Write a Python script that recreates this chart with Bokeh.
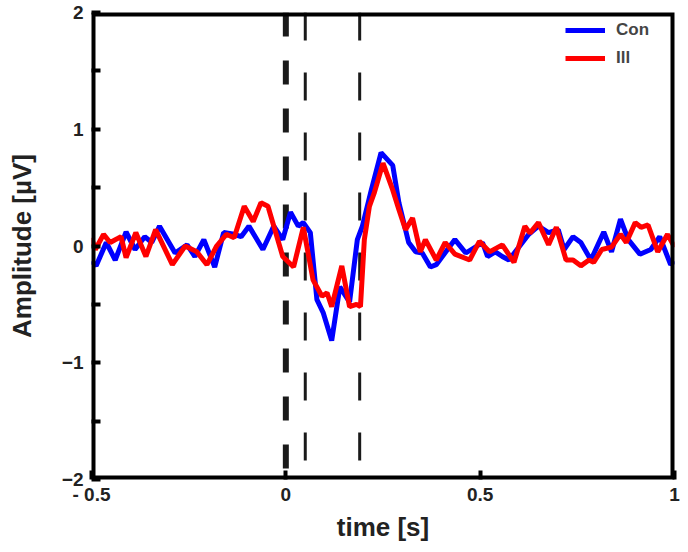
from bokeh.plotting import figure
from bokeh.models import FixedTicker, Legend, LegendItem, Range1d
from bokeh.embed import file_html
from bokeh.resources import INLINE

# time [s] and amplitude [µV]
con_t = [-0.500, -0.488, -0.462, -0.439, -0.411, -0.388, -0.363, -0.345, -0.325, -0.285,
         -0.254, -0.234, -0.211, -0.183, -0.160, -0.133, -0.115, -0.095, -0.059, -0.031,
         -0.008, 0.012, 0.032, 0.045, 0.063, 0.080, 0.096, 0.118, 0.139, 0.164,
         0.184, 0.197, 0.220, 0.245, 0.275, 0.291, 0.316, 0.334, 0.351, 0.372,
         0.387, 0.435, 0.463, 0.506, 0.519, 0.539, 0.557, 0.574, 0.625, 0.650,
         0.676, 0.701, 0.716, 0.739, 0.759, 0.785, 0.818, 0.838, 0.861, 0.881,
         0.911, 0.939, 0.962, 0.990, 1.000]
con_v = [-0.13, -0.17, 0.03, -0.12, 0.12, -0.03, 0.08, 0.03, 0.17, -0.06,
         0.01, -0.09, 0.055, -0.18, 0.115, 0.10, 0.08, 0.17, -0.03, 0.17,
         0.055, 0.29, 0.17, 0.20, 0.115, -0.46, -0.57, -0.81, -0.35, -0.48,
         0.055, 0.17, 0.48, 0.80, 0.69, 0.37, 0.03, -0.05, -0.06, -0.18,
         -0.16, 0.055, -0.06, 0.03, -0.09, -0.05, -0.09, -0.12, 0.10, 0.17,
         0.115, 0.14, -0.03, 0.08, 0.03, -0.12, 0.12, -0.05, 0.23, 0.055,
         -0.07, -0.03, 0.08, -0.16, -0.13]

ill_t = [-0.500, -0.490, -0.469, -0.452, -0.424, -0.411, -0.386, -0.360, -0.335, -0.292,
         -0.259, -0.229, -0.203, -0.178, -0.153, -0.133, -0.107, -0.084, -0.064, -0.046,
         -0.008, 0.020, 0.045, 0.070, 0.093, 0.106, 0.118, 0.144, 0.164, 0.182,
         0.192, 0.202, 0.215, 0.227, 0.250, 0.275, 0.291, 0.308, 0.326, 0.346,
         0.359, 0.387, 0.410, 0.435, 0.473, 0.498, 0.524, 0.557, 0.587, 0.615,
         0.628, 0.650, 0.676, 0.696, 0.721, 0.739, 0.759, 0.780, 0.792, 0.813,
         0.838, 0.861, 0.876, 0.899, 0.914, 0.932, 0.957, 0.982, 1.000]
ill_v = [0.07, -0.03, 0.10, 0.03, 0.08, -0.10, 0.115, -0.09, 0.14, -0.16,
         0.0, -0.05, -0.16, 0.0, 0.10, 0.07, 0.34, 0.21, 0.37, 0.34,
         -0.09, -0.18, 0.16, -0.29, -0.43, -0.40, -0.52, -0.17, -0.52, -0.50,
         -0.52, 0.055, 0.34, 0.45, 0.71, 0.48, 0.31, 0.14, 0.24, -0.05,
         0.055, -0.12, 0.03, -0.07, -0.12, 0.04, -0.05, 0.01, -0.14, 0.17,
         0.11, 0.20, 0.01, 0.16, -0.12, -0.12, -0.17, -0.12, -0.14, -0.03,
         -0.01, 0.10, 0.03, 0.20, 0.16, 0.18, -0.05, 0.10, -0.01]

marker_times = [0.0, 0.05, 0.19]
y_ticks = [-2, -1, 0, 1, 2]
y_minor = [-1.5, -0.5, 0.5, 1.5]
x_ticks = [-0.5, 0, 0.5, 1]
x_labels = {-0.5: "- 0.5", 0: "0", 0.5: "0.5", 1: "1"}

FONT = "Liberation Sans"
x0, x1 = x_ticks[0], x_ticks[-1]
y0, y1 = y_ticks[0], y_ticks[-1]

p = figure(width=680, height=544, output_backend="svg", toolbar_location=None,
           x_range=Range1d(x0, x1), y_range=Range1d(y0, y1),
           min_border_left=91, min_border_right=6, min_border_top=12, min_border_bottom=63)
p.grid.visible = False
p.outline_line_color = None
p.background_fill_color = "white"
p.border_fill_color = "white"

xax = p.below[0]
yax = p.left[0]

# dashed markers
p.line([marker_times[0], marker_times[0]], [y1, y0], line_color="#1a1a1a", line_width=6,
       line_dash="24 24")
for t in marker_times[1:]:
    p.line([t, t], [y1, y0], line_color="#1a1a1a", line_width=3, line_dash="28 32")

r_con = p.line(con_t, con_v, line_color="#0000ff", line_width=5)
r_ill = p.line(ill_t, ill_v, line_color="#ff0000", line_width=5)

# box around the frame (clipped to the frame, so half of the width shows)
p.line([x0, x1, x1, x0, x0], [y0, y0, y1, y1, y0], line_color="black", line_width=8)

legend = Legend(items=[LegendItem(label="Con", renderers=[r_con]),
                       LegendItem(label="Ill", renderers=[r_ill])],
                location=(474, 411), border_line_color=None,
                background_fill_alpha=0.0, label_text_font=FONT,
                label_text_font_style="bold", label_text_font_size="17px",
                glyph_width=40, glyph_height=20, label_height=20,
                label_standoff=11, spacing=8, margin=0, padding=4)
p.add_layout(legend)

for ax in (xax, yax):
    ax.axis_line_color = None
    ax.major_tick_in = 9
    ax.major_tick_out = 0
    ax.major_tick_line_width = 4
    ax.minor_tick_in = 9
    ax.minor_tick_out = 0
    ax.minor_tick_line_width = 4
    ax.major_label_text_font = FONT
    ax.major_label_text_font_style = "bold"
    ax.major_label_text_font_size = "19px"
    ax.major_label_text_color = "#222222"
    ax.axis_label_text_font = FONT
    ax.axis_label_text_font_style = "bold"
    ax.axis_label_text_font_size = "26px"
    ax.axis_label_text_color = "#222222"

yax.ticker = FixedTicker(ticks=y_ticks, minor_ticks=y_minor)
yax.major_label_overrides = {-2: "\u22122", -1: "\u22121", 0: "0", 1: "1", 2: "2"}
yax.axis_label = "Amplitude [\u00b5V]"
yax.axis_label_standoff = 22
yax.major_label_standoff = 8

xax.ticker = FixedTicker(ticks=x_ticks)
xax.major_label_overrides = x_labels
xax.axis_label = "time [s]"
xax.axis_label_standoff = 4
xax.major_label_standoff = 4

open("out.html", "w").write(file_html(p, INLINE))
